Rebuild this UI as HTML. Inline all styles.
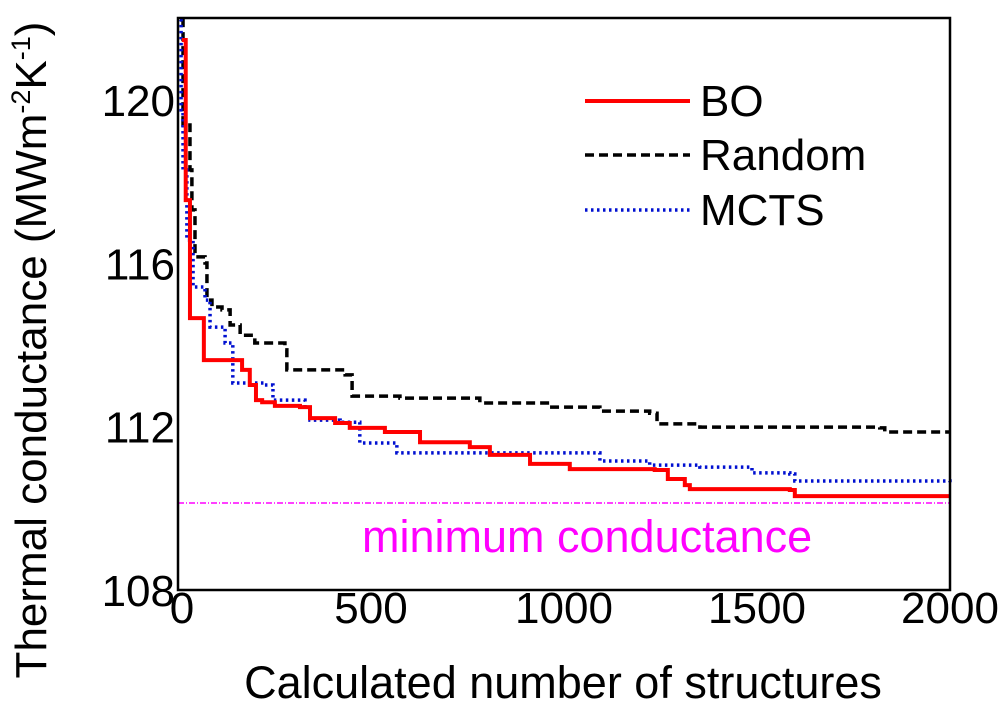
<!DOCTYPE html>
<html><head><meta charset="utf-8"><style>
body{margin:0;background:#fff;width:1000px;height:702px;overflow:hidden}
svg text{font-family:"Liberation Sans",sans-serif}
</style></head><body>
<svg id="chart" width="1000" height="702" viewBox="0 0 1000 702" xmlns="http://www.w3.org/2000/svg">
<g id="marks"></g>
<rect x="178" y="18" width="772" height="572" fill="none" stroke="#000" stroke-width="2.5"/>
<g id="ticks" font-size="44"></g>
<text x="563" y="698" font-size="45" text-anchor="middle">Calculated number of structures</text>
<text transform="translate(46,350) rotate(-90)" font-size="44" text-anchor="middle">Thermal conductance (MWm<tspan font-size="27" dy="-16">-2</tspan><tspan dy="16">K</tspan><tspan font-size="27" dy="-16">-1</tspan><tspan dy="16">)</tspan></text>
<g font-size="44">
<line x1="585" y1="101" x2="690" y2="101" stroke="#f00" stroke-width="4"/>
<text x="700" y="116">BO</text>
<line x1="585" y1="155" x2="690" y2="155" stroke="#000" stroke-width="3.5" stroke-dasharray="9,5"/>
<text x="700" y="170">Random</text>
<line x1="585" y1="210" x2="690" y2="210" stroke="#0010d0" stroke-width="3.5" stroke-dasharray="2.5,3.5"/>
<text x="700" y="225">MCTS</text>
</g>
<text x="362" y="552" font-size="45" fill="#f0f">minimum conductance</text>
</svg>
<script>
const boX=[10,20,31,52,67,148,166,186,202,218,251,316,342,407,445,536,627,756,808,912,1015,1235,1269,1313,1326,1585,1598,2000];
const boY=[121.47,117.55,114.66,114.66,113.63,113.63,113.39,113.02,112.65,112.60,112.51,112.48,112.21,112.09,111.97,111.87,111.62,111.50,111.31,111.09,110.96,110.94,110.72,110.57,110.47,110.45,110.30,110.30];
const rndX=[8,13,31,36,44,70,75,88,114,135,161,199,277,282,433,451,575,782,963,1093,1222,1241,1352,1818,1831,2000];
const rndY=[121.96,119.39,118.29,117.31,116.16,116.01,115.10,114.93,114.86,114.49,114.24,114.05,113.88,113.39,113.27,112.75,112.70,112.58,112.48,112.38,112.33,112.07,111.99,111.97,111.87,111.87];
const mctsX=[5,8,13,23,39,70,83,122,142,225,246,329,342,420,471,567,1015,1093,1222,1352,1487,1585,1598,2000];
const mctsY=[121.96,119.76,118.29,116.57,115.42,115.10,114.44,114.05,113.07,113.02,112.65,112.46,112.16,112.11,111.60,111.36,111.36,111.16,111.06,111.01,110.87,110.84,110.67,110.64];
const minValue=110.13;
const xTicks=[0,500,1000,1500,2000];
const yTicks=[108,112,116,120];
const X0=178,X1=950,Y0=590,Y1=18,XMAX=2000,YMIN=108,YMAX=122.01;
const sx=v=>X0+(v/XMAX)*(X1-X0);
const sy=v=>Y0-(v-YMIN)/(YMAX-YMIN)*(Y0-Y1);
const NS="http://www.w3.org/2000/svg";
const marks=document.getElementById('marks'),ticks=document.getElementById('ticks');
function line(xs,ys,color,w,dash,name){
  const p=document.createElementNS(NS,'polyline');
  const pts=[];
  xs.forEach((x,i)=>{
    pts.push(sx(x)+','+sy(ys[i]));
    if(i<xs.length-1) pts.push(sx(xs[i+1])+','+sy(ys[i]));
  });
  p.setAttribute('points',pts.join(' '));
  p.setAttribute('fill','none');p.setAttribute('stroke',color);p.setAttribute('stroke-width',w);
  if(dash)p.setAttribute('stroke-dasharray',dash);
  
  
  marks.appendChild(p);
}
const ml=document.createElementNS(NS,'line');
ml.setAttribute('x1',X0);ml.setAttribute('x2',X1);ml.setAttribute('y1',sy(minValue));ml.setAttribute('y2',sy(minValue));
ml.setAttribute('stroke','#f0f');ml.setAttribute('stroke-width','1.5');ml.setAttribute('stroke-dasharray','6,2,1,2');


marks.appendChild(ml);
line(rndX,rndY,'#000',3.5,'9,5','random-series');
line(mctsX,mctsY,'#0010d0',3.5,'2.5,3.5','mcts-series');
line(boX,boY,'#f00',4,null,'bo-series');
xTicks.forEach(v=>{const t=document.createElementNS(NS,'text');t.setAttribute('x',v===0?sx(v)+4:sx(v));t.setAttribute('y',623);t.setAttribute('text-anchor','middle');t.textContent=v;


ticks.appendChild(t);});
yTicks.forEach(v=>{const t=document.createElementNS(NS,'text');t.setAttribute('x',175);t.setAttribute('y',sy(v)+16);t.setAttribute('text-anchor','end');t.textContent=v;


ticks.appendChild(t);});
</script>
</body></html>
